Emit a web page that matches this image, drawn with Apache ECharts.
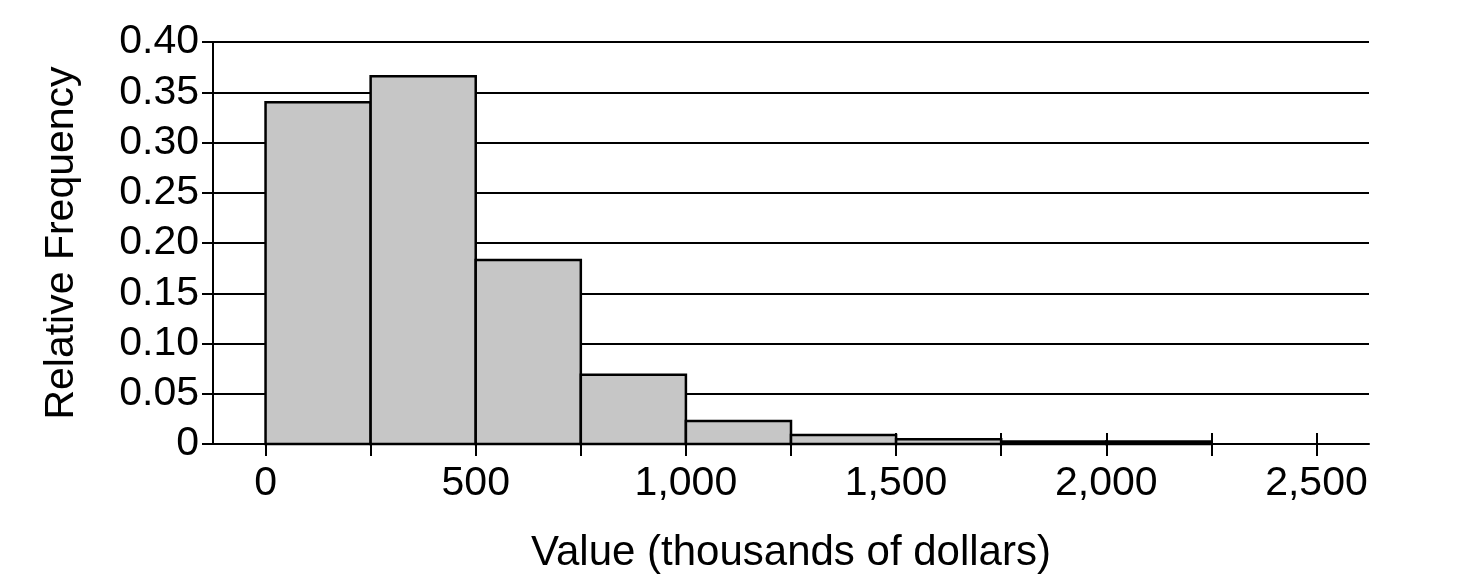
<!DOCTYPE html>
<html>
<head>
<meta charset="utf-8">
<script src="https://cdn.jsdelivr.net/npm/echarts@6/dist/echarts.min.js"></script>
<style>
html,body{margin:0;padding:0;background:#fff;}
#chart{width:1478px;height:582px;}
</style>
</head>
<body>
<div id="chart"></div>
<script>
// Histogram bins (thousands of dollars) and relative frequencies
const binStarts = [0, 250, 500, 750, 1000, 1250, 1500, 1750, 2000];
const binEnds   = [250, 500, 750, 1000, 1250, 1500, 1750, 2000, 2250];
const relFreq   = [0.340, 0.366, 0.183, 0.069, 0.023, 0.009, 0.0047, 0.0025, 0.0025];
const xTickValues  = [0, 250, 500, 750, 1000, 1250, 1500, 1750, 2000, 2250, 2500];
const xLabelValues = [0, 500, 1000, 1500, 2000, 2500];
const xTitle = 'Value (thousands of dollars)';
const yTitle = 'Relative Frequency';

const FONT = '"Liberation Sans", Arial, Helvetica, sans-serif';
const data = binStarts.map((s, i) => [s, binEnds[i], relFreq[i]]);

const chart = echarts.init(document.getElementById('chart'), null, {renderer: 'canvas'});
chart.setOption({
  animation: false,
  backgroundColor: '#fff',
  grid: {left: 213, right: 109, top: 42, bottom: 138, containLabel: false},
  xAxis: [{
    type: 'value', position: 'bottom', min: -125, max: 2625,
    axisLine: {show: true, onZero: false, lineStyle: {color: '#000', width: 2}},
    axisTick: {show: true, inside: true, length: 11, customValues: xTickValues,
               lineStyle: {color: '#000', width: 2}},
    axisLabel: {show: true, customValues: xLabelValues, fontSize: 41, color: '#000',
                fontFamily: FONT, margin: 19,
                formatter: v => v.toLocaleString('en-US')},
    splitLine: {show: false},
    name: xTitle, nameLocation: 'middle', nameGap: 88,
    nameTextStyle: {fontSize: 42, color: '#000', fontFamily: FONT}
  }, {
    type: 'value', position: 'bottom', min: -125, max: 2625,
    axisLine: {show: false, onZero: false},
    axisTick: {show: true, inside: false, length: 12, customValues: xTickValues,
               lineStyle: {color: '#000', width: 2}},
    axisLabel: {show: false},
    splitLine: {show: false}
  }],
  yAxis: {
    type: 'value', min: 0, max: 0.4, interval: 0.05,
    axisLine: {show: true, onZero: false, lineStyle: {color: '#000', width: 2}},
    axisTick: {show: true, length: 11, lineStyle: {color: '#000', width: 2}},
    axisLabel: {fontSize: 41, color: '#000', fontFamily: FONT, margin: 14,
                formatter: v => (v === 0 ? '0' : v.toFixed(2))},
    splitLine: {show: true, lineStyle: {color: '#000', width: 2}},
    name: yTitle, nameLocation: 'middle', nameGap: 131, nameRotate: 90,
    nameTextStyle: {fontSize: 41, color: '#000', fontFamily: FONT}
  },
  series: [{
    type: 'custom',
    xAxisIndex: 0,
    z: 5,
    data: data,
    encode: {x: [0, 1], y: 2},
    renderItem: function (params, api) {
      const p0 = api.coord([api.value(0), 0]);
      const p1 = api.coord([api.value(1), api.value(2)]);
      return {
        type: 'rect',
        shape: {x: p0[0], y: p1[1], width: p1[0] - p0[0], height: p0[1] - p1[1]},
        style: {fill: '#c6c6c6', stroke: '#000', lineWidth: 2.5}
      };
    }
  }]
});
</script>
</body>
</html>
